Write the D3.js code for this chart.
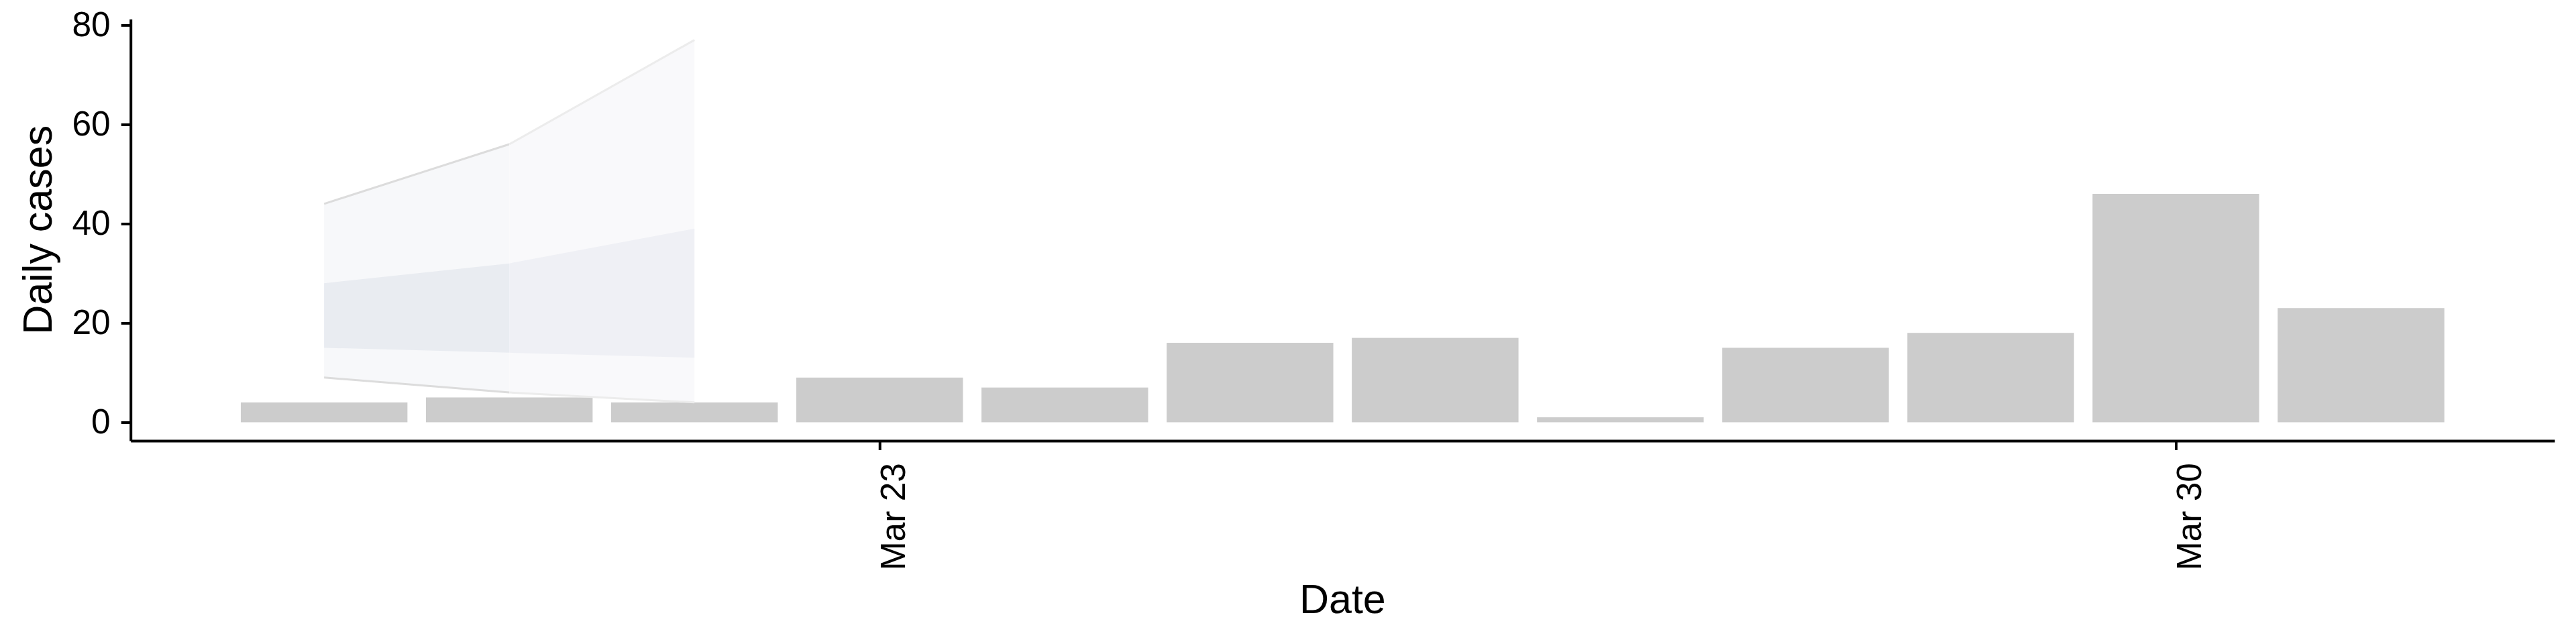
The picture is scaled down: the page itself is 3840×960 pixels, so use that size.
<!DOCTYPE html>
<html>
<head>
<meta charset="utf-8">
<script src="https://cdn.jsdelivr.net/npm/d3@7"></script>
<style>
  html, body { margin: 0; padding: 0; background: #ffffff; }
  svg { display: block; }
  text { font-family: "Liberation Sans", Arial, Helvetica, sans-serif; fill: #000; }
</style>
</head>
<body>
<script>
// ---- data ----
const dates = ["2020-03-20","2020-03-21","2020-03-22","2020-03-23","2020-03-24","2020-03-25",
               "2020-03-26","2020-03-27","2020-03-28","2020-03-29","2020-03-30","2020-03-31"];
const cases = [4, 5, 4, 9, 7, 16, 17, 1, 15, 18, 46, 23];

const ribbonDates = ["2020-03-20","2020-03-21","2020-03-22"];
const outerLower = [9, 6, 4];
const outerUpper = [44, 56, 77];
const innerLower = [15, 14, 13];
const innerUpper = [28, 32, 39];

const xTickDates = ["2020-03-23","2020-03-30"];
const xTickLabels = ["Mar 23","Mar 30"];
const yTicks = [0, 20, 40, 60, 80];
const xTitle = "Date";
const yTitle = "Daily cases";

// ---- layout ----
const W = 3840, H = 960;
const panel = { left: 194.7, right: 3808, top: 28.5, bottom: 657 };
const DAY = 86400000;
const parse = s => new Date(s + "T00:00:00Z");

const svg = d3.select("body").append("svg").attr("width", W).attr("height", H);

// x scale: bars span +-0.45 day, 5% expansion like ggplot
const dMin = parse(dates[0]).getTime() - 0.45 * DAY;
const dMax = parse(dates[dates.length - 1]).getTime() + 0.45 * DAY;
const span = dMax - dMin;
const x = d3.scaleUtc()
  .domain([new Date(dMin - 0.05 * span), new Date(dMax + 0.05 * span)])
  .range([panel.left, panel.right]);

const y = d3.scaleLinear()
  .domain([-3.72, 81.2])
  .range([panel.bottom, panel.top]);

// ---- bars ----
const bars = dates.map((d, i) => ({ date: parse(d), v: cases[i] }));
svg.append("g").selectAll("rect").data(bars).join("rect")
  .attr("x", d => x(new Date(d.date.getTime() - 0.45 * DAY)))
  .attr("width", d => x(new Date(d.date.getTime() + 0.45 * DAY)) - x(new Date(d.date.getTime() - 0.45 * DAY)))
  .attr("y", d => y(d.v))
  .attr("height", d => y(0) - y(d.v))
  .attr("fill", "#cccccc");

// ---- ribbons (per segment) ----
const rib = ribbonDates.map((d, i) => ({
  date: parse(d), ol: outerLower[i], ou: outerUpper[i], il: innerLower[i], iu: innerUpper[i]
}));
const segStyles = [
  { outer: "#f7f8fa", inner: "#e9ecf1", line: "#dcdcdc" },
  { outer: "#f9f9fb", inner: "#eff0f5", line: "#ececec" }
];
const gR = svg.append("g");
for (let s = 0; s < rib.length - 1; s++) {
  const seg = [rib[s], rib[s + 1]];
  const st = segStyles[s];
  gR.append("path").datum(seg)
    .attr("d", d3.area().x(d => x(d.date)).y0(d => y(d.ol)).y1(d => y(d.ou)))
    .attr("fill", st.outer);
  gR.append("path").datum(seg)
    .attr("d", d3.area().x(d => x(d.date)).y0(d => y(d.il)).y1(d => y(d.iu)))
    .attr("fill", st.inner);
  gR.append("path").datum(seg)
    .attr("d", d3.line().x(d => x(d.date)).y(d => y(d.ou)))
    .attr("fill", "none").attr("stroke", st.line).attr("stroke-width", 3);
  gR.append("path").datum(seg)
    .attr("d", d3.line().x(d => x(d.date)).y(d => y(d.ol)))
    .attr("fill", "none").attr("stroke", st.line).attr("stroke-width", 3);
}

// ---- axes ----
const fontTick = 51.5;
const yAxis = d3.axisLeft(y).tickValues(yTicks).tickSize(14).tickSizeOuter(0).tickPadding(16);
const gy = svg.append("g").attr("transform", `translate(${panel.left},0)`).call(yAxis);
gy.select(".domain").attr("stroke", "#000").attr("stroke-width", 4);
gy.selectAll(".tick line").attr("stroke", "#000").attr("stroke-width", 4);
gy.selectAll(".tick text").attr("font-size", fontTick).attr("fill", "#000")
  .attr("font-family", '"Liberation Sans", Arial, sans-serif');

const xAxis = d3.axisBottom(x).tickValues(xTickDates.map(parse)).tickSize(14).tickSizeOuter(0)
  .tickFormat((d, i) => xTickLabels[i]);
const gx = svg.append("g").attr("transform", `translate(0,${panel.bottom})`).call(xAxis);
gx.select(".domain").attr("stroke", "#000").attr("stroke-width", 4);
gx.selectAll(".tick line").attr("stroke", "#000").attr("stroke-width", 4);
gx.selectAll(".tick text")
  .attr("font-size", fontTick).attr("fill", "#000")
  .attr("font-family", '"Liberation Sans", Arial, sans-serif')
  .attr("text-anchor", "end")
  .attr("dy", null)
  .attr("y", 0)
  .attr("transform", "translate(37,33) rotate(-90)");

// ---- titles ----
svg.append("text")
  .attr("x", (panel.left + panel.right) / 2).attr("y", 914)
  .attr("text-anchor", "middle").attr("font-size", 61).text(xTitle);

svg.append("text")
  .attr("transform", `translate(77,${(panel.top + panel.bottom) / 2}) rotate(-90)`)
  .attr("text-anchor", "middle").attr("font-size", 61).text(yTitle);
</script>
</body>
</html>
